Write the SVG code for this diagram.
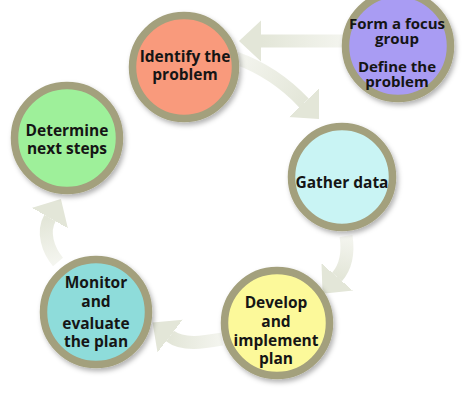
<svg xmlns="http://www.w3.org/2000/svg" width="474" height="401" viewBox="0 0 474 401">
<style>
.arrow{fill:none;stroke-width:13;stroke-linecap:butt}
.s0{stop-color:#f4f5ef}
.s1{stop-color:#e3e6d8}
.node circle{stroke:#a3a07d;stroke-width:7.5;filter:url(#sh)}
.node text{font-family:"Open Sans","Noto Sans","DejaVu Sans",sans-serif;font-weight:bold;font-size:15.5px;fill:#151515;text-anchor:middle}
</style>
<defs>
<filter id="sh" x="-20%" y="-20%" width="150%" height="150%">
<feDropShadow dx="2" dy="3" stdDeviation="2.5" flood-color="#000" flood-opacity="0.3"/>
</filter>
<marker id="head" markerUnits="userSpaceOnUse" markerWidth="24" markerHeight="44" viewBox="0 -22 24 44" refX="0" refY="0" orient="auto">
<path d="M-0.5,-21 L22,0 L-0.5,21 Z" fill="#e3e6d8"/>
</marker>
<linearGradient id="g1" gradientUnits="userSpaceOnUse" x1="345" y1="41" x2="262" y2="41"><stop offset="0" class="s0"/><stop offset="1" class="s1"/></linearGradient>
<linearGradient id="g2" gradientUnits="userSpaceOnUse" x1="236" y1="58" x2="304" y2="103"><stop offset="0" class="s0"/><stop offset="1" class="s1"/></linearGradient>
<linearGradient id="g3" gradientUnits="userSpaceOnUse" x1="346" y1="236" x2="337" y2="277"><stop offset="0" class="s0"/><stop offset="1" class="s1"/></linearGradient>
<linearGradient id="g4" gradientUnits="userSpaceOnUse" x1="222" y1="339" x2="170" y2="336"><stop offset="0" class="s0"/><stop offset="1" class="s1"/></linearGradient>
<linearGradient id="g5" gradientUnits="userSpaceOnUse" x1="58" y1="262" x2="50" y2="218"><stop offset="0" class="s0"/><stop offset="1" class="s1"/></linearGradient>
</defs>
<rect width="474" height="401" fill="#fff"/>
<g id="connectors">
<path class="arrow" stroke="url(#g1)" d="M345,41 L261,41" marker-end="url(#head)"/>
<path class="arrow" stroke="url(#g2)" d="M236,58 Q275,72 304,103" marker-end="url(#head)"/>
<path class="arrow" stroke="url(#g3)" d="M346,236 Q350,262 337,277" marker-end="url(#head)"/>
<path class="arrow" stroke="url(#g4)" d="M222,339 C205,342 183,346 170,336" marker-end="url(#head)"/>
<path class="arrow" stroke="url(#g5)" d="M58,262 C48,250 42,232 50,218" marker-end="url(#head)"/>
</g>
<g id="identify" class="node">
<circle cx="184" cy="67" r="51.5" fill="#f99a7c"/>
<text x="185" y="62">Identify the<tspan x="185" dy="18">problem</tspan></text>
</g>
<g id="focus" class="node">
<circle cx="398" cy="46" r="52.5" fill="#a99cf3"/>
<text x="397" y="29" style="font-size:15px">Form a focus<tspan x="397" dy="15">group</tspan><tspan x="397" dy="28">Define the</tspan><tspan x="397" dy="15">problem</tspan></text>
</g>
<g id="determine" class="node">
<circle cx="67" cy="138" r="52.5" fill="#9ef09a"/>
<text x="67" y="136">Determine<tspan x="67" dy="18">next steps</tspan></text>
</g>
<g id="gather" class="node">
<circle cx="342" cy="177" r="50.5" fill="#c9f4f4"/>
<text x="342" y="188">Gather data</text>
</g>
<g id="develop" class="node">
<circle cx="277" cy="323" r="52.5" fill="#fcf99a"/>
<text x="276" y="308">Develop<tspan x="276" dy="19">and</tspan><tspan x="276" dy="19">implement</tspan><tspan x="276" dy="18">plan</tspan></text>
</g>
<g id="monitor" class="node">
<circle cx="96" cy="312" r="52.5" fill="#8edcda"/>
<text x="96" y="288">Monitor<tspan x="96" dy="19">and</tspan><tspan x="96" dy="22">evaluate</tspan><tspan x="96" dy="18">the plan</tspan></text>
</g>
</svg>
